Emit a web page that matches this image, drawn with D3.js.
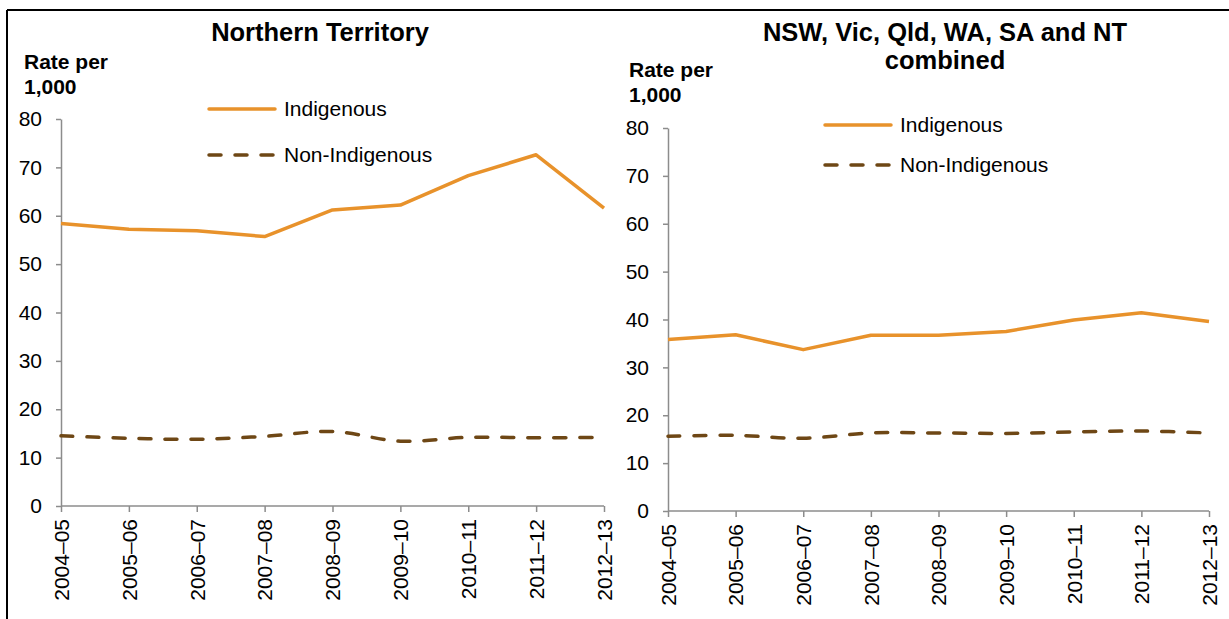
<!DOCTYPE html>
<html>
<head>
<meta charset="utf-8">
<script src="https://cdn.jsdelivr.net/npm/d3@7"></script>
<style>
  body { margin: 0; background: #fff; }
  svg { display: block; font-family: "Liberation Sans", Arial, sans-serif; }
  .tick text { font-size: 21px; fill: #000; }
</style>
</head>
<body>
<svg id="chart" width="1229" height="619"></svg>
<script>
    // Financial years on the x axis
    const years = ["2004–05", "2005–06", "2006–07", "2007–08", "2008–09",
                   "2009–10", "2010–11", "2011–12", "2012–13"];
    const yTicks = [0, 10, 20, 30, 40, 50, 60, 70, 80];
    const seriesNames = ["Indigenous", "Non-Indigenous"];

    // Northern Territory
    const ntIndigenous = [58.4, 57.2, 56.9, 55.7, 61.2, 62.2, 68.3, 72.6, 61.6];
    const ntNonIndigenous = [14.5, 14.0, 13.8, 14.4, 15.4, 13.4, 14.2, 14.1, 14.2];

    // NSW, Vic, Qld, WA, SA and NT combined
    const allIndigenous = [35.8, 36.8, 33.7, 36.7, 36.7, 37.5, 39.9, 41.4, 39.6];
    const allNonIndigenous = [15.6, 15.8, 15.2, 16.3, 16.3, 16.2, 16.5, 16.7, 16.3];

    const orange = "#e8922b", brown = "#6e4715", axisGrey = "#8c8c8c";

    const svg = d3.select("#chart");

    // frame (top and left edges only are visible)
    svg.append("line").attr("x1", 7).attr("x2", 1229).attr("y1", 10).attr("y2", 10)
      .attr("stroke", "#000").attr("stroke-width", 2);
    svg.append("line").attr("x1", 7).attr("x2", 7).attr("y1", 10).attr("y2", 619)
      .attr("stroke", "#000").attr("stroke-width", 2);

    const panels = [
      { title: ["Northern Territory"], titleX: 320, titleY: 41,
        left: 61, right: 604, top: 119, bottom: 506,
        labelX: 24, labelY: 69,
        legendX: 207, legendY: [109, 155],
        indig: ntIndigenous, nonIndig: ntNonIndigenous },
      { title: ["NSW, Vic, Qld, WA, SA and NT", "combined"], titleX: 945, titleY: 41,
        left: 668, right: 1209, top: 128, bottom: 511,
        labelX: 629, labelY: 77,
        legendX: 823, legendY: [125, 165],
        indig: allIndigenous, nonIndig: allNonIndigenous }
    ];

    panels.forEach(p => {
      const g = svg.append("g");

      const x = d3.scalePoint().domain(years).range([p.left, p.right]);
      const y = d3.scaleLinear().domain([0, 80]).range([p.bottom, p.top]);

      // title
      const title = g.append("text")
        .attr("x", p.titleX).attr("y", p.titleY)
        .attr("text-anchor", "middle")
        .style("font-size", "25.5px").style("font-weight", "bold");
      p.title.forEach((t, i) => {
        title.append("tspan").attr("x", p.titleX).attr("dy", i === 0 ? 0 : 28).text(t);
      });

      // y axis label
      const lab = g.append("text")
        .attr("x", p.labelX).attr("y", p.labelY)
        .style("font-size", "21px").style("font-weight", "bold");
      lab.append("tspan").attr("x", p.labelX).text("Rate per");
      lab.append("tspan").attr("x", p.labelX).attr("dy", 25).text("1,000");

      // y axis
      const yAxis = g.append("g")
        .attr("transform", `translate(${p.left},0)`)
        .call(d3.axisLeft(y).tickValues(yTicks).tickSize(5).tickPadding(14).tickSizeOuter(0));
      yAxis.selectAll("line, path").attr("stroke", axisGrey).attr("stroke-width", 1.5);

      // x axis
      const xAxis = g.append("g")
        .attr("transform", `translate(0,${p.bottom})`)
        .call(d3.axisBottom(x).tickSize(6).tickSizeOuter(0));
      xAxis.select(".domain").attr("d", `M${p.left},0H${p.right}`);
      xAxis.selectAll("line, path").attr("stroke", axisGrey).attr("stroke-width", 1.5);
      xAxis.selectAll(".tick text")
        .attr("transform", "rotate(-90)")
        .attr("text-anchor", "end")
        .attr("x", -13)
        .attr("y", 0)
        .attr("dy", "0.35em");

      // series
      const straight = d3.line().x((d, i) => x(years[i])).y(d => y(d));
      const smooth = d3.line().x((d, i) => x(years[i])).y(d => y(d))
        .curve(d3.curveCatmullRom.alpha(0.5));

      g.append("path").datum(p.nonIndig)
        .attr("d", smooth)
        .attr("fill", "none").attr("stroke", brown).attr("stroke-width", 3.5)
        .attr("stroke-dasharray", "12,14").attr("stroke-linecap", "round");

      g.append("path").datum(p.indig)
        .attr("d", straight)
        .attr("fill", "none").attr("stroke", orange).attr("stroke-width", 3.5)
        .attr("stroke-linejoin", "round");

      // legend
      seriesNames.forEach((name, i) => {
        const ly = p.legendY[i];
        g.append("line")
          .attr("x1", p.legendX + 2).attr("x2", p.legendX + 68)
          .attr("y1", ly).attr("y2", ly)
          .attr("stroke", i === 0 ? orange : brown).attr("stroke-width", 3.5)
          .attr("stroke-linecap", "round")
          .attr("stroke-dasharray", i === 0 ? null : "12,14");
        g.append("text")
          .attr("x", p.legendX + 77).attr("y", ly)
          .attr("dy", "0.35em")
          .style("font-size", "21px")
          .text(name);
      });
    });
</script>
</body>
</html>
